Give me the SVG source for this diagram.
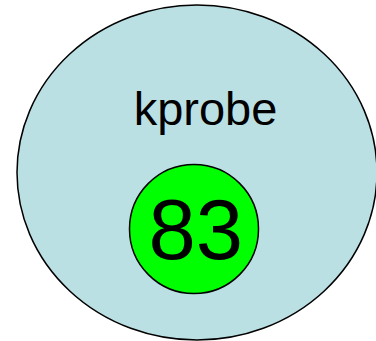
<svg xmlns="http://www.w3.org/2000/svg" width="376" height="341" viewBox="0 0 376 341">
<style>
.lbl{font-family:"Liberation Sans",Arial,sans-serif;fill:#000;text-anchor:middle}
</style>
<rect width="376" height="341" fill="#fff"/>
<g id="kprobe">
<ellipse cx="197" cy="172.5" rx="180" ry="167.5" fill="#bbe0e3" stroke="#000" stroke-width="1.5"/>
<text class="lbl" x="205.5" y="125" font-size="47">kprobe</text>
</g>
<g id="n83">
<circle cx="194" cy="229" r="64.5" fill="#00ff00" stroke="#000" stroke-width="1.5"/>
<text class="lbl" x="195.8" y="259" font-size="85">83</text>
</g>
<g id="connectors"/>
</svg>
